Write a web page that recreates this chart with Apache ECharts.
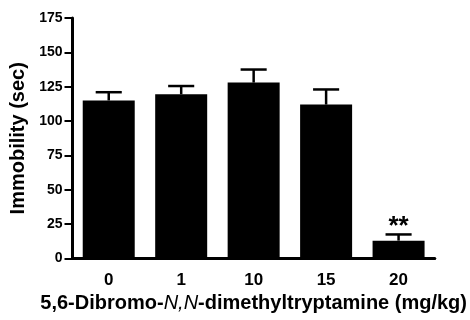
<!DOCTYPE html>
<html>
<head>
<meta charset="utf-8">
<script src="https://cdn.jsdelivr.net/npm/echarts@6/dist/echarts.min.js"></script>
<style>html,body{margin:0;padding:0;background:#fff;}#c{width:470px;height:320px;}</style>
</head>
<body>
<div id="c"></div>
<script>
const categories = ['0', '1', '10', '15', '20'];
const means = [115, 119.5, 128, 112, 13];
const sems = [6, 6, 9.5, 11, 4.5];
const sigLabels = ['', '', '', '', '**'];
const yTicks = [0, 25, 50, 75, 100, 125, 150, 175];

const FONT = '"Liberation Sans", Arial, Helvetica, sans-serif';
const chart = echarts.init(document.getElementById('c'), null, {renderer: 'canvas'});

const errData = means.map((m, i) => [i, m, sems[i], sigLabels[i]]);

chart.setOption({
  animation: false,
  backgroundColor: '#fff',
  grid: {left: 72.5, right: 32, top: 18, bottom: 61.5, containLabel: false},
  xAxis: {
    type: 'category',
    data: categories,
    axisLine: {lineStyle: {color: '#000', width: 3}},
    axisTick: {alignWithLabel: true, length: 9, lineStyle: {color: '#000', width: 2}},
    axisLabel: {color: '#000', fontWeight: 'bold', fontSize: 17, fontFamily: FONT, margin: 13},
    name: '{b|5,6-Dibromo-}{i|N,N}{b|-dimethyltryptamine (mg/kg)}',
    nameLocation: 'middle',
    nameGap: 33,
    nameTextStyle: {
      rich: {
        b: {fontWeight: 'bold', fontSize: 20, fontFamily: FONT, color: '#000'},
        i: {fontStyle: 'italic', fontWeight: 'normal', fontSize: 20, fontFamily: FONT, color: '#000'}
      }
    }
  },
  yAxis: {
    type: 'value',
    min: yTicks[0],
    max: yTicks[yTicks.length - 1],
    interval: 25,
    splitLine: {show: false},
    axisLine: {show: true, lineStyle: {color: '#000', width: 3}},
    axisTick: {show: true, inside: false, length: 8, lineStyle: {color: '#000', width: 2}},
    axisLabel: {color: '#000', fontWeight: 'bold', fontSize: 14, fontFamily: FONT, margin: 10},
    name: 'Immobility (sec)',
    nameLocation: 'middle',
    nameGap: 42,
    nameTextStyle: {fontWeight: 'bold', fontSize: 20, fontFamily: FONT, color: '#000'}
  },
  series: [
    {
      type: 'bar',
      data: means,
      barWidth: 52,
      itemStyle: {color: '#000'},
      z: 2
    },
    {
      type: 'custom',
      data: errData,
      encode: {x: 0, y: 1},
      z: 3,
      renderItem: function (params, api) {
        const i = api.value(0);
        const m = api.value(1);
        const e = api.value(2);
        const lab = sigLabels[params.dataIndex];
        const base = api.coord([i, m]);
        const top = api.coord([i, m + e]);
        const half = api.size([1, 0])[0] * 0.18;
        const st = {stroke: '#000', lineWidth: 2.5};
        const children = [
          {type: 'line', shape: {x1: base[0], y1: base[1], x2: top[0], y2: top[1]}, style: st},
          {type: 'line', shape: {x1: top[0] - half, y1: top[1], x2: top[0] + half, y2: top[1]}, style: st}
        ];
        if (lab) {
          children.push({
            type: 'text',
            style: {
              text: lab, x: top[0], y: top[1] + 5, align: 'center', verticalAlign: 'bottom',
              font: 'bold 26px ' + FONT, fill: '#000'
            }
          });
        }
        return {type: 'group', children: children};
      }
    }
  ]
});
</script>
</body>
</html>
